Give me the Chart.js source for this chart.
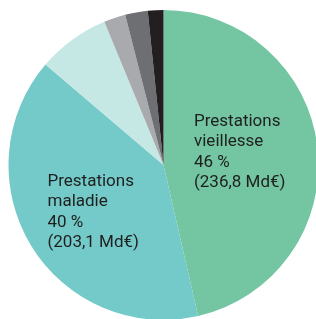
<!DOCTYPE html>
<html><head><meta charset="utf-8">
<script src="https://cdn.jsdelivr.net/npm/chart.js@4.4.0/dist/chart.umd.min.js"></script>
<style>
html,body{margin:0;padding:0;background:#fff;overflow:hidden;width:316px;height:319px;}
#wrap{position:absolute;left:8px;top:10px;width:311px;height:310px;}
</style></head><body>
<div id="wrap"><canvas id="c"></canvas></div>
<script>
const categories = ["Prestations vieillesse","Prestations maladie","Autres 1","Autres 2","Autres 3","Autres 4"];
const values = [236.8, 203.1, 38.5, 11.5, 12.0, 8.3];
const colors = ["#73c6a1","#73cac8","#c6e8e5","#a8aaad","#6d6f73","#231f20"];
const labelLines = [
  ["Prestations","vieillesse","46 %","(236,8 Md€)"],
  ["Prestations","maladie","40 %","(203,1 Md€)"]
];
const labelPos = [[194,121.5],[47.5,181.5]]; // page coords of first line middle

const textPlugin = {
  id:'txt',
  afterDraw(chart){
    const ctx = chart.ctx;
    ctx.save();
    ctx.fillStyle = "#1f1f1f";
    ctx.font = "400 17px Roboto";
    ctx.textBaseline = "middle";
    ctx.textAlign = "left";
    labelLines.forEach((lines,i)=>{
      const [px,py] = labelPos[i];
      lines.forEach((l,j)=>{
        ctx.fillText(l, px-8, py-10 + j*20.5);
      });
    });
    ctx.restore();
  }
};

new Chart(document.getElementById('c'),{
  type:'pie',
  data:{labels:categories,datasets:[{data:values,backgroundColor:colors,borderWidth:0}]},
  options:{
    responsive:true,maintainAspectRatio:false,animation:false,
    layout:{padding:0},
    plugins:{legend:{display:false},tooltip:{enabled:false}}
  },
  plugins:[textPlugin]
});
</script>
</body></html>
